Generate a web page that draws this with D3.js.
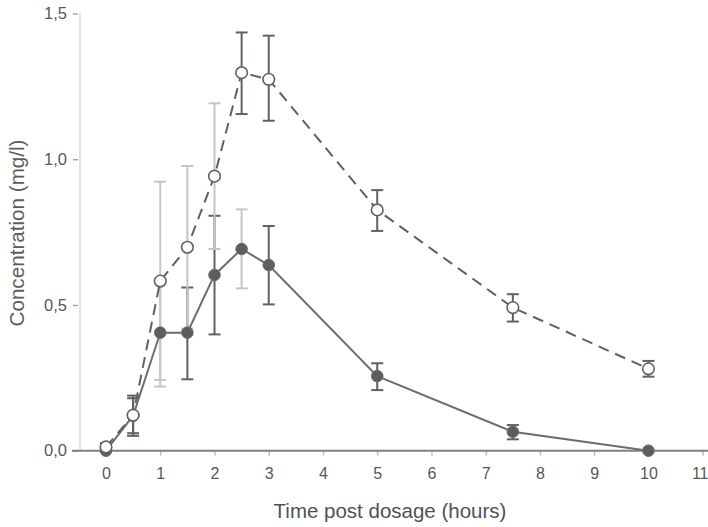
<!DOCTYPE html>
<html>
<head>
<meta charset="utf-8">
<script src="https://cdn.jsdelivr.net/npm/d3@7"></script>
<style>
  html, body { margin: 0; padding: 0; background: #fff; }
  svg { display: block; font-family: "Liberation Sans", Arial, sans-serif; }
</style>
</head>
<body>
<svg id="chart" width="708" height="527"></svg>
<script>
// Sampling times (hours after dosing)
const times = [0, 0.5, 1, 1.5, 2, 2.5, 3, 5, 7.5, 10];

// Open circles, dashed line: mean concentration and error bounds (mg/l)
const openMean  = [0.013, 0.122, 0.582, 0.698, 0.942, 1.297, 1.274, 0.826, 0.491, 0.281];
const openLow   = [0.000, 0.051, 0.243, 0.419, 0.692, 1.155, 1.132, 0.754, 0.443, 0.254];
const openHigh  = [0.026, 0.189, 0.923, 0.977, 1.192, 1.435, 1.424, 0.894, 0.537, 0.308];

// Filled circles, solid line: mean concentration and error bounds (mg/l)
const filledMean = [0.000, 0.120, 0.405, 0.405, 0.603, 0.692, 0.637, 0.256, 0.065, 0.000];
const filledLow  = [0.000, 0.060, 0.220, 0.245, 0.399, 0.557, 0.502, 0.208, 0.039, 0.000];
const filledHigh = [0.000, 0.180, 0.590, 0.560, 0.806, 0.828, 0.771, 0.300, 0.088, 0.000];

// Axis ticks
const xTicks = [0, 1, 2, 3, 4, 5, 6, 7, 8, 9, 10, 11];
const yTicks = [0, 0.5, 1.0, 1.5];

// Times whose error bars are drawn in a lighter grey
const openLight = [1, 1.5, 2];
const filledLight = [1, 2.5];

const svg = d3.select("#chart");
const x = d3.scaleLinear().domain([0, 11]).range([106, 702.7]);
const y = d3.scaleLinear().domain([0, 1.5]).range([450.7, 13.5]);

const dark = "#5e6263";
const light = "#c4c6c6";
const fmt = d => d3.format(".1f")(d).replace(".", ",");

// Y axis line (faint)
svg.append("line")
  .attr("x1", 80).attr("x2", 80)
  .attr("y1", y(1.5)).attr("y2", y(0))
  .attr("stroke", "#e4e4e4").attr("stroke-width", 2);

// Y axis ticks and labels
const yAxis = d3.axisLeft(y).tickValues(yTicks).tickFormat(fmt).tickSize(5).tickPadding(6);
const gy = svg.append("g").attr("transform", "translate(78,0)").call(yAxis);
gy.select(".domain").remove();
gy.selectAll(".tick line").attr("stroke", "#9a9d9d").attr("stroke-width", 1.3);
gy.selectAll(".tick text")
  .attr("font-size", 16.5).attr("fill", "#55595a")
  .attr("font-family", "Liberation Sans, Arial, sans-serif");

// X axis
const xAxis = d3.axisBottom(x).tickValues(xTicks).tickFormat(d3.format("d")).tickSize(5).tickPadding(12);
const gx = svg.append("g").attr("transform", `translate(0,${y(0)})`).call(xAxis);
gx.select(".domain").remove();
gx.selectAll(".tick line").attr("stroke", "#b8bbbb").attr("stroke-width", 1.3);
gx.selectAll(".tick text")
  .attr("font-size", 16).attr("fill", "#55595a")
  .attr("font-family", "Liberation Sans, Arial, sans-serif");
// keep the last label inside the frame
gx.selectAll(".tick text").filter(d => d === 11).attr("dx", -3);
svg.append("line")
  .attr("x1", 72).attr("x2", 708)
  .attr("y1", y(0)).attr("y2", y(0))
  .attr("stroke", "#7d8181").attr("stroke-width", 2);

// Axis titles
svg.append("text")
  .attr("x", 390).attr("y", 518)
  .attr("text-anchor", "middle")
  .attr("font-size", 20.5).attr("fill", "#4f5354")
  .text("Time post dosage (hours)");
svg.append("text")
  .attr("transform", "translate(24,233) rotate(-90)")
  .attr("text-anchor", "middle")
  .attr("font-size", 19.5).attr("fill", "#5a5e5f")
  .attr("textLength", 187).attr("lengthAdjust", "spacingAndGlyphs")
  .text("Concentration (mg/l)");

const openData = times.map((t, i) => ({t, m: openMean[i], lo: openLow[i], hi: openHigh[i], light: openLight.includes(t)}));
const filledData = times.map((t, i) => ({t, m: filledMean[i], lo: filledLow[i], hi: filledHigh[i], light: filledLight.includes(t)}));

function errorBars(data) {
  const g = svg.append("g");
  const bars = g.selectAll("g").data(data.filter(d => d.hi - d.lo > 0.001)).join("g")
    .attr("stroke", d => d.light ? light : dark)
    .attr("stroke-width", 2);
  bars.append("line")
    .attr("x1", d => x(d.t)).attr("x2", d => x(d.t))
    .attr("y1", d => y(d.lo)).attr("y2", d => y(d.hi));
  bars.append("line")
    .attr("x1", d => x(d.t) - 6).attr("x2", d => x(d.t) + 6)
    .attr("y1", d => y(d.hi)).attr("y2", d => y(d.hi));
  bars.append("line")
    .attr("x1", d => x(d.t) - 6).attr("x2", d => x(d.t) + 6)
    .attr("y1", d => y(d.lo)).attr("y2", d => y(d.lo));
}

errorBars(filledData);
errorBars(openData);

const line = d3.line().x(d => x(d.t)).y(d => y(d.m));

// Filled series: solid line
svg.append("path")
  .datum(filledData)
  .attr("d", line)
  .attr("fill", "none")
  .attr("stroke", "#6a6e6e")
  .attr("stroke-width", 2);

// Open series: dashed line
svg.append("path")
  .datum(openData)
  .attr("d", line)
  .attr("fill", "none")
  .attr("stroke", "#5e6263")
  .attr("stroke-width", 2)
  .attr("stroke-dasharray", "11,7");

// Markers
svg.append("g").selectAll("circle").data(filledData).join("circle")
  .attr("cx", d => x(d.t)).attr("cy", d => y(d.m)).attr("r", 5.8)
  .attr("fill", "#5a5e5f").attr("stroke", "#6a6e6e").attr("stroke-width", 1);

svg.append("g").selectAll("circle").data(openData).join("circle")
  .attr("cx", d => x(d.t)).attr("cy", d => y(d.m)).attr("r", 5.8)
  .attr("fill", "#fff").attr("stroke", "#5e6263").attr("stroke-width", 1.6);
</script>
</body>
</html>
